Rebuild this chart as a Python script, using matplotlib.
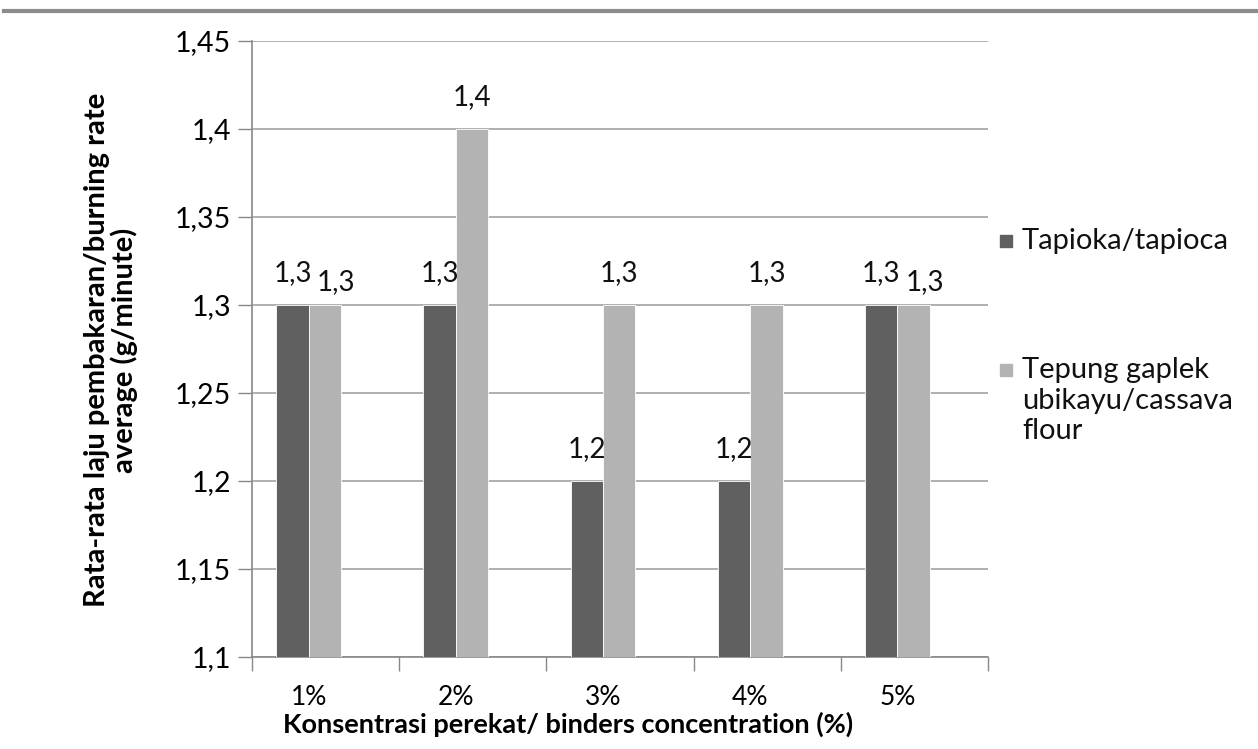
import matplotlib
matplotlib.use("Agg")
import matplotlib.pyplot as plt
from matplotlib.lines import Line2D
from matplotlib.patches import Rectangle
from matplotlib.ticker import FixedLocator, FuncFormatter
import numpy as np

plt.rcParams['font.family'] = ['Lato', 'DejaVu Sans']

# burning rate averages per binder concentration
concentrations = ['1%', '2%', '3%', '4%', '5%']
tapioca = [1.3, 1.3, 1.2, 1.2, 1.3]
cassava = [1.3, 1.4, 1.3, 1.3, 1.3]
series_names = ['Tapioka/tapioca', 'Tepung gaplek\nubikayu/cassava\nflour']
colors = ['#606060', '#b3b3b3']


def comma(v, digits=1):
    return f"{v:.{digits}f}".replace('.', ',')


fig = plt.figure(figsize=(12.58, 7.49), dpi=100)
ax = fig.add_axes([0.2003, 0.1228, 0.5851, 0.8225])

x = np.arange(len(concentrations))
width = 0.22
shift = 0.115  # category boxes sit slightly right of the bar groups

dark = ax.bar(x - width / 2, tapioca, width, color=colors[0], edgecolor='white', linewidth=0.6, zorder=3)
light = ax.bar(x + width / 2, cassava, width, color=colors[1], edgecolor='white', linewidth=0.6, zorder=3)

for bd, bl, vd, vl in zip(dark, light, tapioca, cassava):
    ax.annotate(comma(vd), (bd.get_x() + bd.get_width() / 2, vd), xytext=(0, 23),
                textcoords='offset points', ha='center', va='center', fontsize=20, color='#111111')
    # equal neighbours: nudge the second label right and down so they don't collide
    off = (8, 16.5) if vd == vl else (0, 23)
    ax.annotate(comma(vl), (bl.get_x() + bl.get_width() / 2, vl), xytext=off,
                textcoords='offset points', ha='center', va='center', fontsize=20, color='#111111')

ax.set_ylim(1.1, 1.45)
ax.set_yticks(np.arange(1.1, 1.4501, 0.05))
ax.yaxis.set_major_formatter(FuncFormatter(lambda v, p: f"{v:.2f}".rstrip('0').replace('.', ',')))
ax.set_xlim(-0.5 + shift, 4.5 + shift)

# category labels under the bars, ticks on the category borders
ax.set_xticks(x)
ax.set_xticklabels(concentrations)
ax.tick_params(axis='x', which='major', length=0, pad=20, labelsize=19)
ax.xaxis.set_minor_locator(FixedLocator(np.arange(6) - 0.5 + shift))
ax.tick_params(axis='x', which='minor', length=10, color='#888888', width=1)
ax.tick_params(axis='y', length=10, color='#888888', width=1, pad=5, labelsize=20.5)

ax.grid(axis='y', color='#9a9a9a', linewidth=1.1, zorder=0)
ax.set_axisbelow(True)
for s in ['top', 'right']:
    ax.spines[s].set_visible(False)
for s in ['left', 'bottom']:
    ax.spines[s].set_color('#888888')
    ax.spines[s].set_linewidth(1.2)

# legend squares with labels to the right of the plot
W, H = 1258, 749
legend_rows = [(241, series_names[0]), (370, series_names[1])]
for (yc, name), c in zip(legend_rows, colors):
    fig.add_artist(Rectangle((1000 / W, 1 - (yc + 6) / H), 12 / W, 12 / H,
                             transform=fig.transFigure, color=c))
    fig.text(1022 / W, 1 - (yc - 13) / H, name, ha='left', va='top', fontsize=21,
             color='#111111', linespacing=1.22)

fig.text(111 / W, 1 - 350 / H, 'Rata-rata laju pembakaran/burning rate\naverage (g/minute)',
         rotation=90, ha='center', va='center', fontsize=21, fontweight='bold',
         multialignment='center', linespacing=1.05)
fig.text(568 / W, 1 - 724 / H, 'Konsentrasi perekat/ binders concentration (%)',
         ha='center', va='center', fontsize=19.5, fontweight='bold')

# rule across the top of the page
fig.add_artist(Line2D([0.003, 1.0], [0.985, 0.985], color='#8c8c8c', linewidth=3,
                      transform=fig.transFigure))

fig.savefig('out.png', dpi=100)
